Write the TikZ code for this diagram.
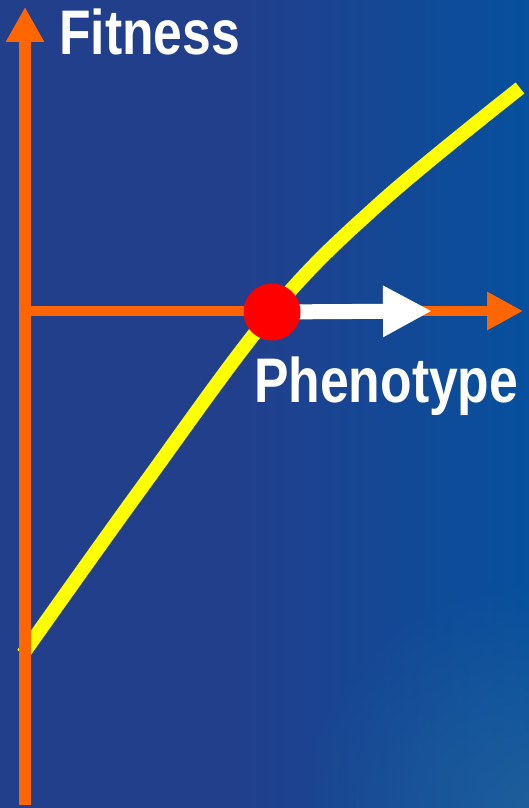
\documentclass[tikz,border=0pt]{standalone}
\usepackage{fontspec}
\setmainfont{Liberation Sans}
\usetikzlibrary{arrows.meta,fadings}
\definecolor{bgblue}{RGB}{34,63,140}
\definecolor{bgright}{RGB}{6,80,158}
\definecolor{bglow}{RGB}{40,100,155}
\definecolor{axorange}{RGB}{255,102,0}
\definecolor{curveyellow}{RGB}{255,255,0}
\tikzfading[name=softcircle, inner color=transparent!0, outer color=transparent!100]
\tikzset{
  axis/.style={draw=axorange},
  label/.style={text=white,font=\bfseries\fontsize{63}{70}\selectfont,inner sep=0pt,xscale=0.82,anchor=base west},
}
\begin{document}
\begin{tikzpicture}[x=1pt,y=-1pt]
\useasboundingbox (0,0) rectangle (529,808);
\fill[bgblue] (0,0) rectangle (529,808);
\shade[left color=bgblue,right color=bgright] (240,0) rectangle (529,808);
\begin{scope}
\clip (0,0) rectangle (529,808);
\fill[bglow,opacity=0.7,path fading=softcircle,fit fading=true] (529,808) circle (230pt);
\end{scope}
% coordinates
\coordinate (vbot) at (25,805);
\coordinate (vtop) at (25,7);
\coordinate (hleft) at (25,311);
\coordinate (hright) at (523,311);
\coordinate (wtip) at (432,311);
% fitness curve
\draw[curveyellow,line width=14pt] plot[smooth,tension=0.6] coordinates {(23,654) (140,490) (272,312) (380,203) (520,88)};
% axes
\draw[axis,line width=12pt,-{Triangle[length=35pt,width=36pt]}] (vbot) -- (vtop);
\draw[axis,line width=10pt,-{Triangle[length=36pt,width=36pt]}] (hleft) -- (hright);
% dot and white arrow
\coordinate (dotc) at (272,312);
\draw[white,line width=15pt,-{Triangle[length=49pt,width=48pt]}] (dotc) -- (wtip);
\node[circle,fill=red,minimum size=57pt,inner sep=0pt] (dot) at (dotc) {};
% labels
\node[label] (fit) at (59,55) {Fitness};
\node[label] (phen) at (254,402) {Phenotype};
\end{tikzpicture}
\end{document}
